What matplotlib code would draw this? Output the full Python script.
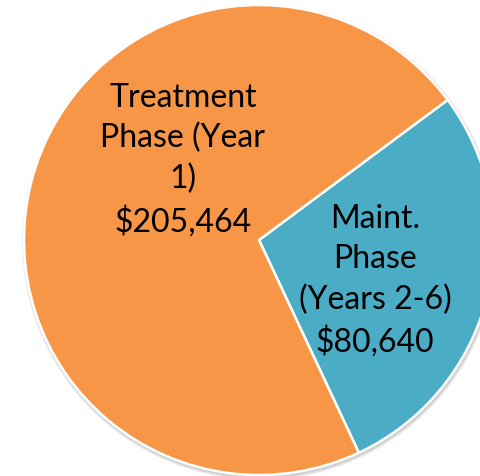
import matplotlib.pyplot as plt
from matplotlib.patches import Circle

labels = ['Maint.\nPhase\n(Years 2-6)\n$80,640', 'Treatment\nPhase (Year\n1)\n$205,464']
values = [80640, 205464]
colors = ['#4BACC6', '#F79646']

plt.rcParams['font.family'] = ['Lato', 'DejaVu Sans']

fig = plt.figure(figsize=(4.81, 4.76), dpi=100)
ax = fig.add_axes([0, 0, 1, 1])

# pixel-like coordinates so the pie can overflow the right edge like the original
cx, cy, r = 259, 236, 235

# soft shadow behind the pie
for i, a in enumerate([0.10, 0.10, 0.12]):
    ax.add_patch(Circle((cx + 1, cy - 2), r + 3 - i, color='#606060', alpha=a, lw=0, zorder=0))

wedges, _ = ax.pie(values, colors=colors, startangle=36.6, counterclock=False,
                   center=(cx, cy), radius=r,
                   wedgeprops=dict(edgecolor='white', linewidth=1.8))
for w in wedges:
    w.set_zorder(1)

ax.text(375, 195, labels[0], ha='center', va='center', fontsize=23,
        linespacing=1.42, color='black', zorder=3)
ax.text(183, 316, labels[1], ha='center', va='center', fontsize=23,
        linespacing=1.42, color='black', zorder=3)

ax.set_xlim(0, 481)
ax.set_ylim(0, 476)
ax.set_aspect('equal')
ax.axis('off')

fig.savefig('out.png', dpi=100)
